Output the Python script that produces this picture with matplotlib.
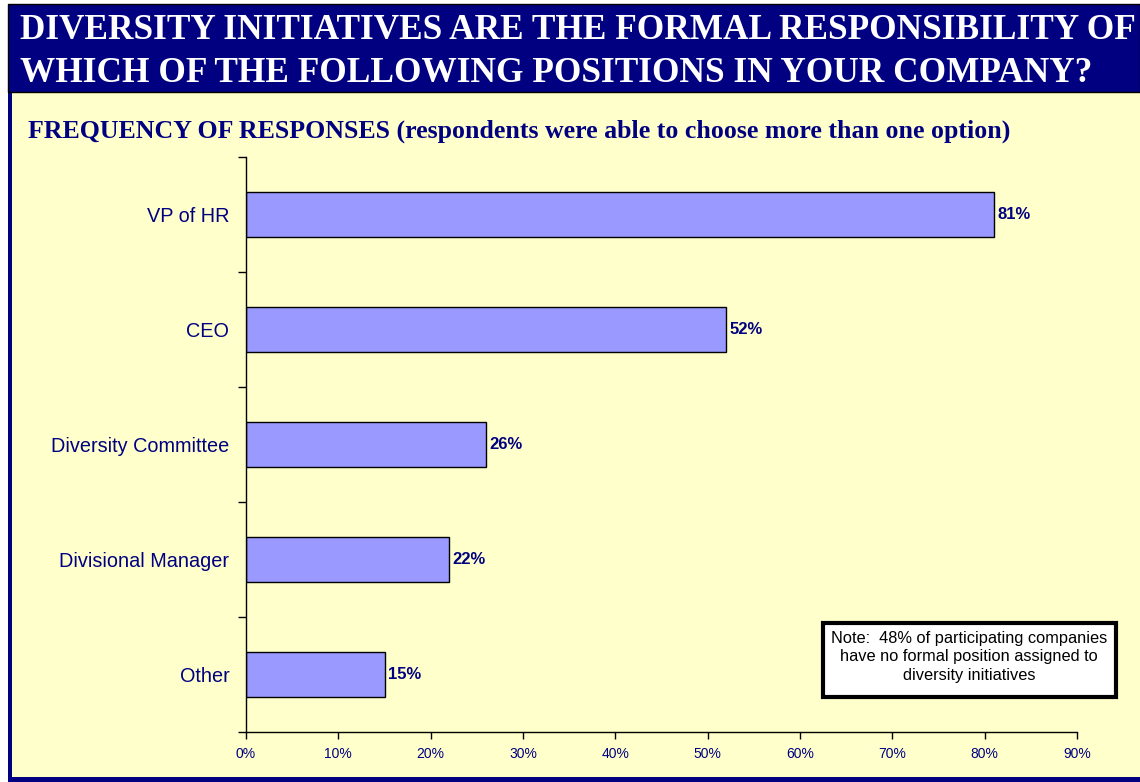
import matplotlib.pyplot as plt
from matplotlib.patches import Rectangle

# survey results, top to bottom
positions = ['VP of HR', 'CEO', 'Diversity Committee', 'Divisional Manager', 'Other']
shares = [81, 52, 26, 22, 15]
x_ticks = [0, 10, 20, 30, 40, 50, 60, 70, 80, 90]

title = ('DIVERSITY INITIATIVES ARE THE FORMAL RESPONSIBILITY OF\n'
         'WHICH OF THE FOLLOWING POSITIONS IN YOUR COMPANY?')
subtitle = 'FREQUENCY OF RESPONSES (respondents were able to choose more than one option)'
note = ('Note:  48% of participating companies\n'
        'have no formal position assigned to\n'
        'diversity initiatives')

NAVY = '#000080'
PANEL = '#FFFFCC'
BAR = '#9999FF'

W, H = 1140, 782
fig = plt.figure(figsize=(W / 100, H / 100), dpi=100)
fig.patch.set_facecolor('white')

def px(x0, y0, w, h):
    # pixel box (from top-left) -> figure fraction
    return (x0 / W, 1 - (y0 + h) / H, w / W, h / H)

def box(x0, y0, w, h, **kw):
    fx, fy, fw, fh = px(x0, y0, w, h)
    fig.add_artist(Rectangle((fx, fy), fw, fh, transform=fig.transFigure, **kw))

# yellow panel and navy frame
box(10, 4, W - 10, 776, facecolor=PANEL, edgecolor='none', zorder=0)
box(8, 4, 4, 778, facecolor=NAVY, edgecolor='none', zorder=1)
box(8, 777, W - 8, 5, facecolor=NAVY, edgecolor='none', zorder=1)
# title band
box(8, 4, W - 8, 88, facecolor=NAVY, edgecolor='black', linewidth=1, zorder=1)
fig.text(20 / W, 1 - 52 / H, title, color='white', fontsize=25.4,
         fontweight='bold', family='Liberation Serif', ha='left', va='center',
         linespacing=1.42, zorder=2)
fig.text(28 / W, 1 - 131 / H, subtitle, color=NAVY, fontsize=18.6,
         fontweight='bold', family='Liberation Serif', ha='left', va='center',
         zorder=2)

ax = fig.add_axes([246 / W, 50 / H, (1077 - 246) / W, (732 - 157) / H])
ax.set_facecolor('none')
ypos = list(range(len(positions)))
ax.barh(ypos, shares, height=0.39, color=BAR, edgecolor='black', linewidth=1)
for y, v in zip(ypos, shares):
    ax.text(v + 0.35, y, f'{v}%', color=NAVY, fontsize=12, fontweight='bold',
            family='Liberation Sans', ha='left', va='center')

ax.set_xlim(0, 90)
ax.set_ylim(len(positions) - 0.5, -0.5)
ax.set_xticks(x_ticks)
ax.set_xticklabels([f'{t}%' for t in x_ticks], color=NAVY, fontsize=10,
                   family='Liberation Sans')
ax.set_yticks(ypos)
ax.set_yticklabels(positions, color=NAVY, fontsize=14.3, family='Liberation Sans')
ax.tick_params(axis='y', length=0, pad=12)
ax.set_yticks([i - 0.5 for i in range(len(positions) + 1)], minor=True)
ax.tick_params(axis='y', which='minor', length=6, width=1, direction='out')
ax.tick_params(axis='x', length=5, width=1, direction='out', pad=6)
for s in ['top', 'right']:
    ax.spines[s].set_visible(False)
for s in ['left', 'bottom']:
    ax.spines[s].set_linewidth(1)

# note box
box(823, 623, 293, 74, facecolor='white', edgecolor='black', linewidth=3, zorder=5)
fig.text(969 / W, 1 - 657 / H, note, color='black', fontsize=11.8,
         family='Liberation Sans', ha='center', va='center', linespacing=1.3,
         zorder=6)

fig.savefig('out.png', dpi=100, facecolor=fig.get_facecolor())
